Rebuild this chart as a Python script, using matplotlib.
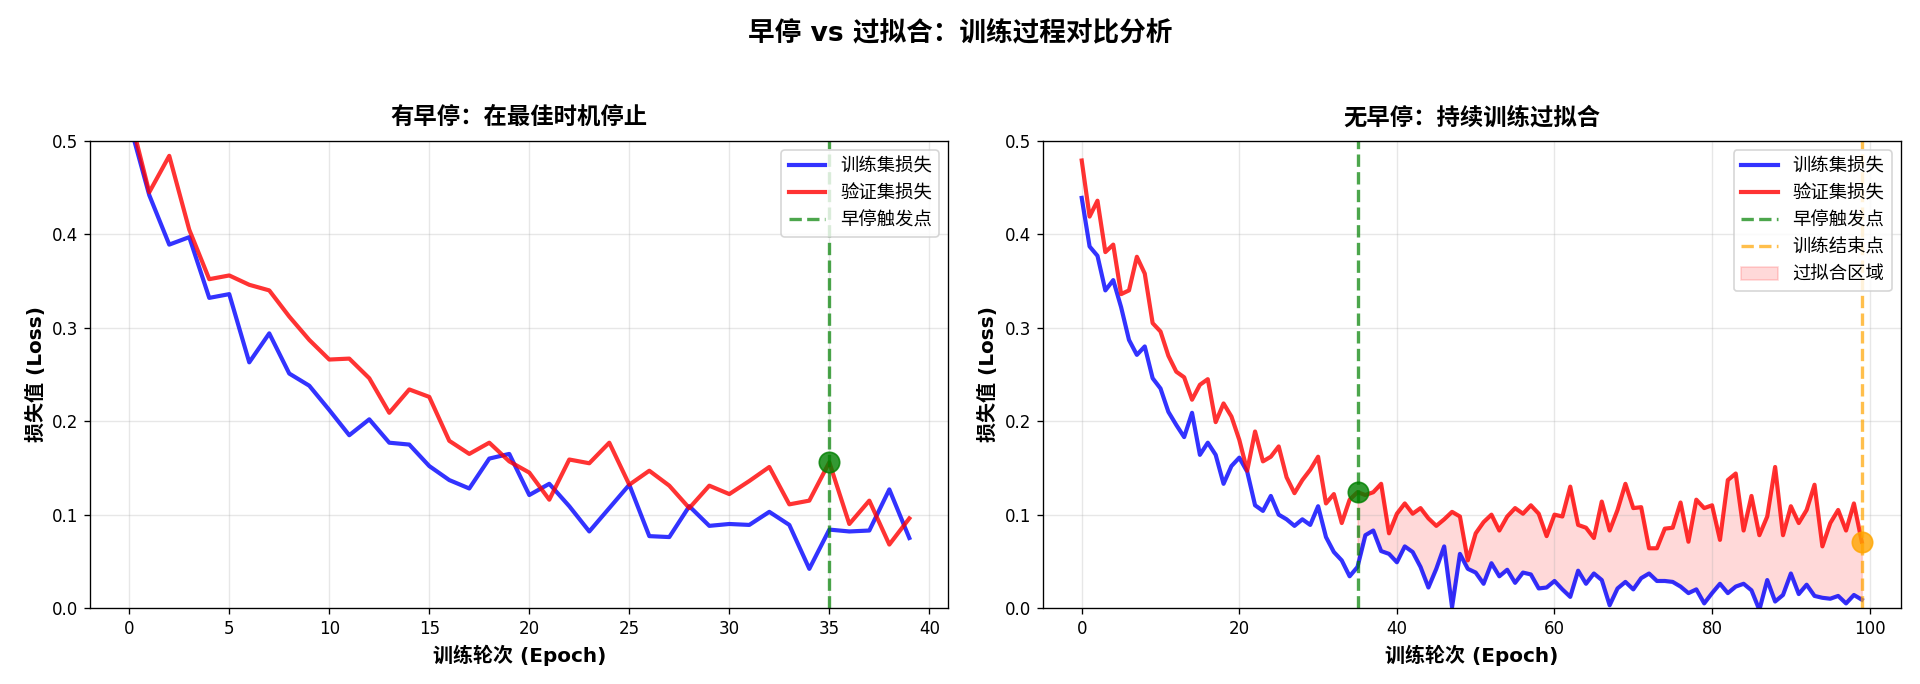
import numpy as np
import matplotlib
matplotlib.use("Agg")
import matplotlib.pyplot as plt

plt.rcParams['font.family'] = ['DejaVu Sans', 'Noto Sans CJK SC']
plt.rcParams['axes.unicode_minus'] = False

# ---------------- data ----------------
suptitle = "早停 vs 过拟合：训练过程对比分析"
left_title = "有早停：在最佳时机停止"
right_title = "无早停：持续训练过拟合"
xlabel = "训练轮次 (Epoch)"
ylabel = "损失值 (Loss)"
lbl_train = "训练集损失"
lbl_val = "验证集损失"
lbl_stop = "早停触发点"
lbl_end = "训练结束点"
lbl_over = "过拟合区域"

es_train = [0.52, 0.442, 0.389, 0.397, 0.332, 0.336, 0.263, 0.294, 0.251, 0.238,
            0.212, 0.185, 0.202, 0.177, 0.175, 0.152, 0.137, 0.128, 0.160, 0.165,
            0.121, 0.133, 0.109, 0.082, 0.107, 0.132, 0.077, 0.076, 0.109, 0.088,
            0.090, 0.089, 0.103, 0.089, 0.042, 0.084, 0.082, 0.083, 0.127, 0.075]
es_val = [0.53, 0.445, 0.484, 0.405, 0.352, 0.356, 0.346, 0.340, 0.312, 0.287,
          0.266, 0.267, 0.246, 0.209, 0.234, 0.226, 0.179, 0.165, 0.177, 0.157,
          0.145, 0.116, 0.159, 0.155, 0.177, 0.132, 0.147, 0.131, 0.107, 0.131,
          0.122, 0.136, 0.151, 0.111, 0.115, 0.156, 0.090, 0.115, 0.068, 0.096]
es_stop_epoch = 35

of_train = [0.439, 0.387, 0.377, 0.340, 0.351, 0.322, 0.287, 0.271, 0.280, 0.246,
            0.235, 0.210, 0.196, 0.183, 0.209, 0.164, 0.177, 0.164, 0.133, 0.152,
            0.161, 0.146, 0.110, 0.104, 0.120, 0.100, 0.095, 0.088, 0.095, 0.089,
            0.109, 0.076, 0.060, 0.051, 0.034, 0.044, 0.078, 0.083, 0.061, 0.058,
            0.049, 0.066, 0.060, 0.044, 0.022, 0.042, 0.066, 0.001, 0.058, 0.042,
            0.038, 0.026, 0.048, 0.034, 0.041, 0.027, 0.038, 0.036, 0.021, 0.022,
            0.029, 0.020, 0.012, 0.040, 0.026, 0.037, 0.030, 0.003, 0.021, 0.028,
            0.020, 0.032, 0.037, 0.029, 0.029, 0.028, 0.023, 0.016, 0.020, 0.005,
            0.016, 0.026, 0.016, 0.023, 0.026, 0.019, -0.002, 0.030, 0.007, 0.014,
            0.037, 0.015, 0.025, 0.013, 0.011, 0.010, 0.013, 0.005, 0.014, 0.009]
of_val = [0.479, 0.419, 0.436, 0.381, 0.389, 0.336, 0.340, 0.376, 0.358, 0.305,
          0.296, 0.270, 0.253, 0.247, 0.223, 0.239, 0.245, 0.199, 0.219, 0.205,
          0.180, 0.147, 0.189, 0.157, 0.162, 0.173, 0.140, 0.123, 0.137, 0.148,
          0.162, 0.112, 0.122, 0.091, 0.116, 0.124, 0.121, 0.124, 0.133, 0.080,
          0.101, 0.112, 0.101, 0.107, 0.096, 0.088, 0.095, 0.103, 0.098, 0.051,
          0.080, 0.092, 0.100, 0.083, 0.098, 0.107, 0.101, 0.110, 0.101, 0.077,
          0.100, 0.098, 0.130, 0.089, 0.086, 0.075, 0.114, 0.083, 0.105, 0.133,
          0.107, 0.108, 0.064, 0.064, 0.085, 0.086, 0.113, 0.071, 0.116, 0.107,
          0.110, 0.073, 0.137, 0.144, 0.083, 0.120, 0.078, 0.098, 0.151, 0.078,
          0.109, 0.091, 0.105, 0.132, 0.066, 0.091, 0.105, 0.083, 0.112, 0.071]
of_best_epoch = 35

# ---------------- plot ----------------
fig, (ax1, ax2) = plt.subplots(1, 2, figsize=(16, 5.7), dpi=120)
fig.subplots_adjust(left=0.047, right=0.99, top=0.794, bottom=0.111, wspace=0.11)

ep1 = np.arange(len(es_train))
ax1.plot(ep1, es_train, color='blue', lw=2.5, alpha=0.8, label=lbl_train)
ax1.plot(ep1, es_val, color='red', lw=2.5, alpha=0.8, label=lbl_val)
ax1.axvline(es_stop_epoch, color='green', ls='--', lw=2, alpha=0.7, label=lbl_stop)
ax1.scatter([es_stop_epoch], [es_val[es_stop_epoch]], s=150, color='green', alpha=0.8, zorder=5)
ax1.set_ylim(0, 0.5)
ax1.set_title(left_title, fontsize=14, fontweight='bold', pad=10)
ax1.set_xlabel(xlabel, fontsize=12, fontweight='bold')
ax1.set_ylabel(ylabel, fontsize=12, fontweight='bold')
ax1.grid(True, alpha=0.3)
ax1.legend(loc='upper right', fontsize=11)

ep2 = np.arange(len(of_train))
end_epoch = ep2[-1]
ax2.plot(ep2, of_train, color='blue', lw=2.5, alpha=0.8, label=lbl_train)
ax2.plot(ep2, of_val, color='red', lw=2.5, alpha=0.8, label=lbl_val)
ax2.axvline(of_best_epoch, color='green', ls='--', lw=2, alpha=0.7, label=lbl_stop)
ax2.axvline(end_epoch, color='orange', ls='--', lw=2, alpha=0.7, label=lbl_end)
ax2.fill_between(ep2[of_best_epoch:], np.array(of_train)[of_best_epoch:],
                 np.array(of_val)[of_best_epoch:], color='red', alpha=0.15, label=lbl_over)
ax2.scatter([of_best_epoch], [of_val[of_best_epoch]], s=150, color='green', alpha=0.8, zorder=5)
ax2.scatter([end_epoch], [of_val[end_epoch]], s=150, color='orange', alpha=0.8, zorder=5)
ax2.set_ylim(0, 0.5)
ax2.set_title(right_title, fontsize=14, fontweight='bold', pad=10)
ax2.set_xlabel(xlabel, fontsize=12, fontweight='bold')
ax2.set_ylabel(ylabel, fontsize=12, fontweight='bold')
ax2.grid(True, alpha=0.3)
ax2.legend(loc='upper right', fontsize=11)

fig.suptitle(suptitle, fontsize=16, fontweight='bold', y=0.97)

fig.savefig("out.png", dpi=120)
